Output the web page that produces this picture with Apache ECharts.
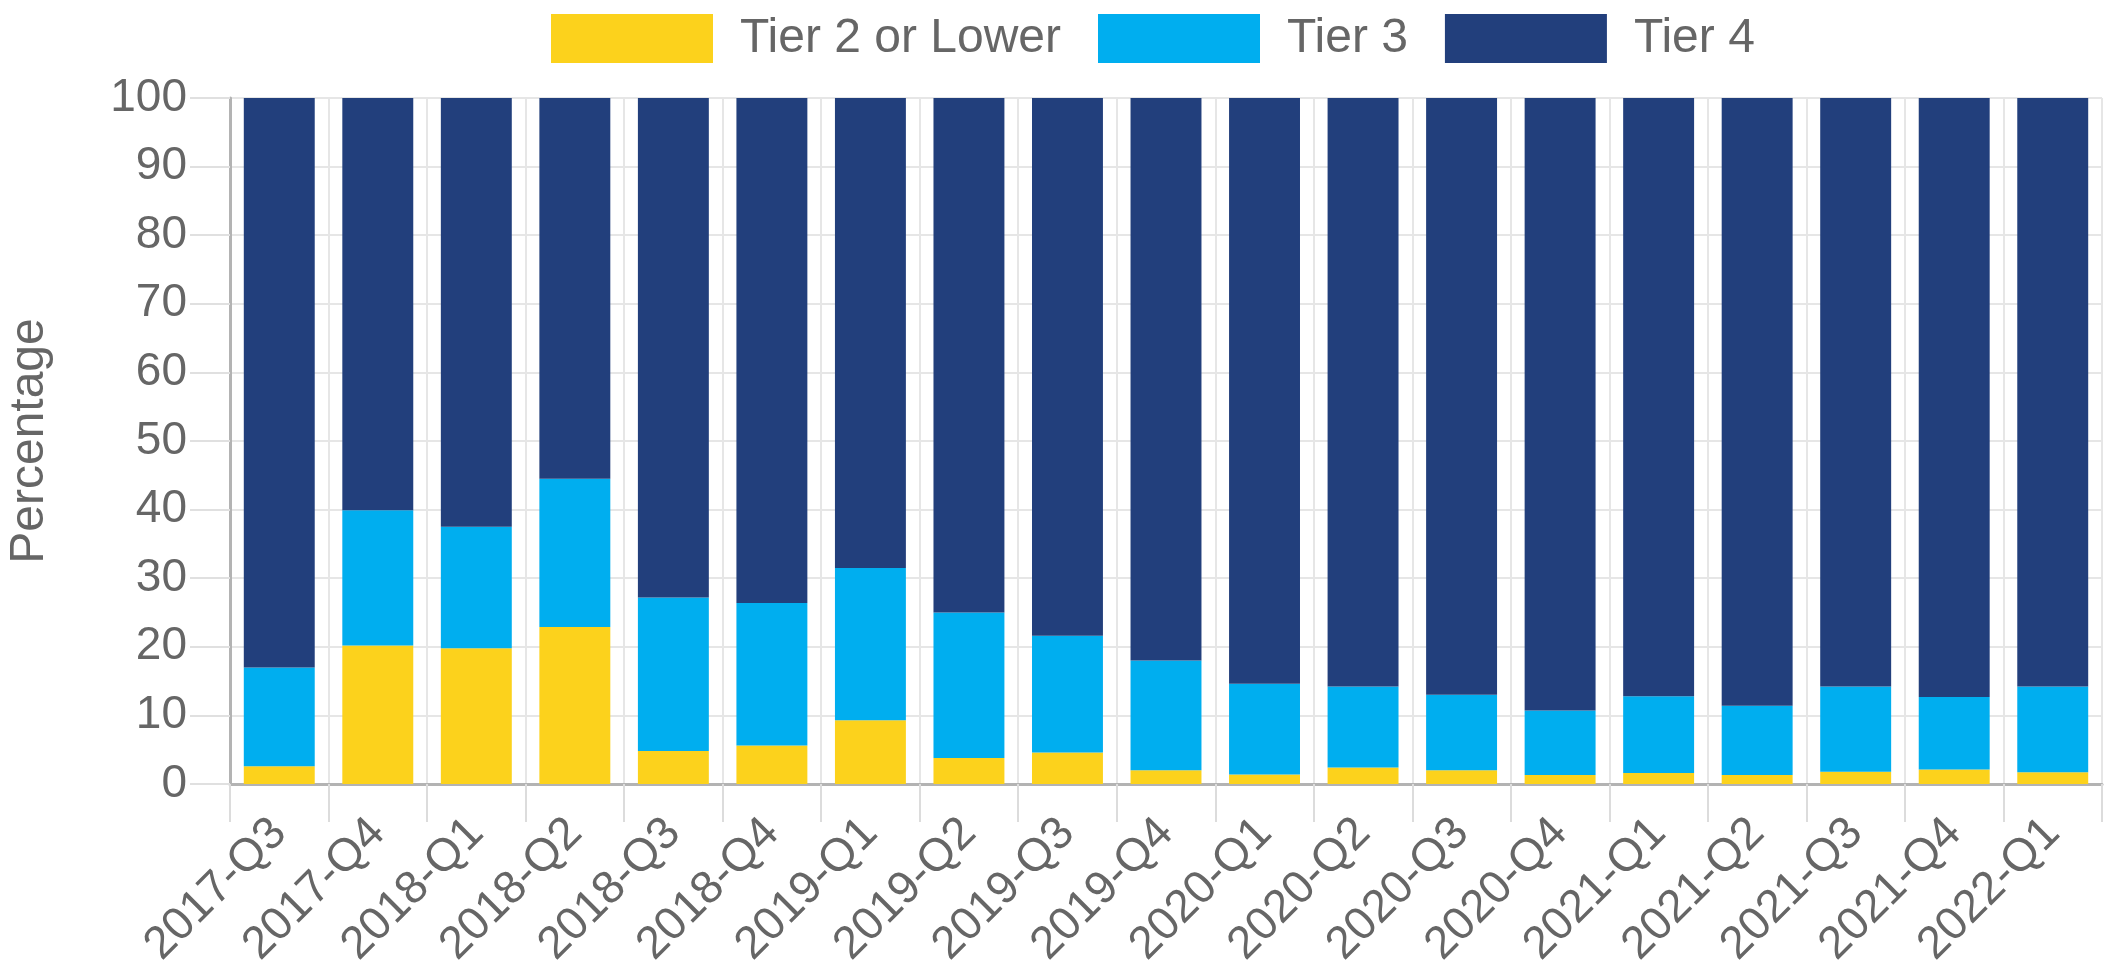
<!DOCTYPE html>
<html>
<head>
<meta charset="utf-8">
<script src="https://cdn.jsdelivr.net/npm/echarts@6/dist/echarts.min.js"></script>
<style>
html,body{margin:0;padding:0;background:#fff;}
#chart{width:2114px;height:978px;}
</style>
</head>
<body>
<div id="chart"></div>
<script>
const categories = ['2017-Q3','2017-Q4','2018-Q1','2018-Q2','2018-Q3','2018-Q4','2019-Q1','2019-Q2','2019-Q3','2019-Q4','2020-Q1','2020-Q2','2020-Q3','2020-Q4','2021-Q1','2021-Q2','2021-Q3','2021-Q4','2022-Q1'];
const tier2 = [2.6, 20.2, 19.8, 22.9, 4.8, 5.6, 9.3, 3.8, 4.6, 2.0, 1.4, 2.4, 2.0, 1.3, 1.6, 1.3, 1.8, 2.1, 1.7];
const tier3 = [14.4, 19.7, 17.7, 21.6, 22.4, 20.8, 22.2, 21.2, 17.0, 16.0, 13.2, 11.8, 11.0, 9.4, 11.2, 10.1, 12.4, 10.6, 12.5];
const tier4 = [83.0, 60.1, 62.5, 55.5, 72.8, 73.6, 68.5, 75.0, 78.4, 82.0, 85.4, 85.8, 87.0, 89.3, 87.2, 88.6, 85.8, 87.3, 85.8];
const seriesNames = ['Tier 2 or Lower', 'Tier 3', 'Tier 4'];
const colors = ['#FCD21C', '#00AEEF', '#223F7C'];

const FONT = '"Liberation Sans", Arial, sans-serif';
const chart = echarts.init(document.getElementById('chart'));
const values = [tier2, tier3, tier4];
chart.setOption({
  animation: false,
  color: colors,
  legend: {
    left: 546, top: 9,
    itemWidth: 162, itemHeight: 49, itemGap: 37,
    icon: 'rect',
    data: seriesNames,
    textStyle: { color: '#666', fontSize: 48, fontFamily: FONT, padding: [0, 0, 0, 22] }
  },
  grid: { left: 230, right: 12, top: 98, bottom: 194, containLabel: false, outerBoundsMode: 'none' },
  xAxis: {
    type: 'category',
    data: categories,
    axisLine: { lineStyle: { color: '#b3b3b3', width: 3 } },
    axisTick: { show: true, length: 38, lineStyle: { color: '#dcdcdc', width: 2 } },
    splitLine: { show: true, lineStyle: { color: '#e6e6e6', width: 2 } },
    axisLabel: { rotate: 45, margin: 42, color: '#666', fontSize: 46, fontFamily: FONT, interval: 0 }
  },
  yAxis: {
    type: 'value', min: 0, max: 100, interval: 10,
    name: 'Percentage', nameLocation: 'middle', nameGap: 176,
    nameTextStyle: { color: '#666', fontSize: 48, fontFamily: FONT },
    axisLine: { show: true, lineStyle: { color: '#b3b3b3', width: 3 } },
    axisTick: { show: true, length: 40, lineStyle: { color: '#e0e0e0', width: 2 } },
    splitLine: { show: true, lineStyle: { color: '#e6e6e6', width: 2 } },
    axisLabel: { margin: 43, color: '#666', fontSize: 46, fontFamily: FONT }
  },
  series: seriesNames.map((n, i) => ({
    name: n, type: 'bar', stack: 'total', barWidth: '72%',
    data: values[i]
  }))
});
</script>
</body>
</html>
